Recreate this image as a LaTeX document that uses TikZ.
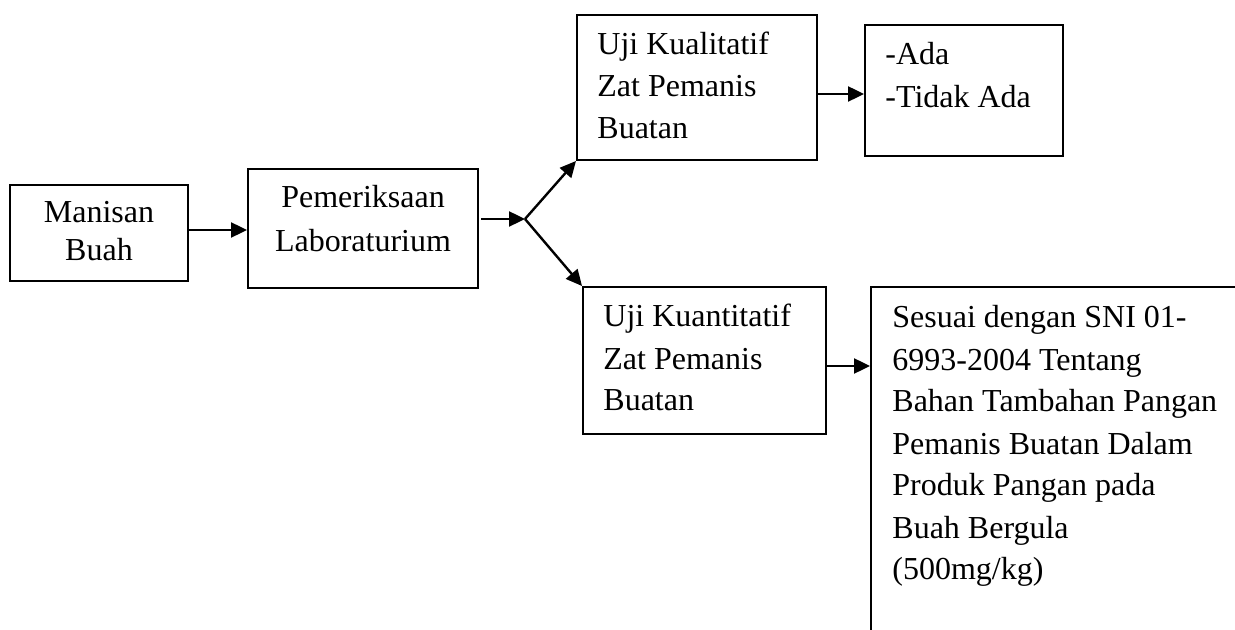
\documentclass[tikz,border=0pt]{standalone}
\usepackage{fontspec}
\setmainfont{Liberation Serif}
\usetikzlibrary{arrows.meta,fit}
\newcommand\mylinesL[2]{\vtop{\baselineskip=#1\lineskiplimit=-100pt\halign{##\hfil\cr#2\crcr}}}
\newcommand\mylinesC[2]{\vtop{\baselineskip=#1\lineskiplimit=-100pt\halign{\hfil##\hfil\cr#2\crcr}}}
\begin{document}
\begin{tikzpicture}[x=0.5pt,y=-0.5pt,
  box/.style={draw,line width=1pt,inner sep=0pt,rectangle},
  txt/.style={inner sep=0pt,font=\fontsize{16}{21}\selectfont},
  arr/.style={-{Triangle[length=8pt,width=7.5pt]},line width=1.2pt}]
\useasboundingbox (0,0) rectangle (1235,630);
% boxes
\node[box,fit={(10,185) (188,281)}] (man) {};
\node[box,fit={(248,169) (478,288)}] (pem) {};
\node[box,fit={(577,15) (817,160)}] (kual) {};
\node[box,fit={(865,25) (1063,156)}] (ada) {};
\node[box,fit={(583,287) (826,434)}] (kuan) {};
\begin{scope}
\clip (0,0) rectangle (1235,630);
\node[box,fit={(871,287) (1300,700)}] (ses) {};
\end{scope}
% texts
\node[txt,anchor=base] (tman) at (99,223) {\mylinesC{19pt}{Manisan\cr Buah}};
\node[txt,anchor=base] (tpem) at (363,208) {\mylinesC{22pt}{Pemeriksaan\cr Laboraturium}};
\node[txt,anchor=base west] (tkual) at (597,55) {\mylinesL{21pt}{Uji Kualitatif\cr Zat Pemanis\cr Buatan}};
\node[txt,anchor=base west] (tada) at (885,65) {\mylinesL{21.5pt}{-Ada\cr -Tidak Ada}};
\node[txt,anchor=base west] (tkuan) at (603,327) {\mylinesL{21pt}{Uji Kuantitatif\cr Zat Pemanis\cr Buatan}};
\node[txt,anchor=base west] (tses) at (892,328) {\mylinesL{21pt}{Sesuai dengan SNI 01-\cr 6993-2004 Tentang\cr Bahan Tambahan Pangan\cr Pemanis Buatan Dalam\cr Produk Pangan pada\cr Buah Bergula\cr (500mg/kg)}};
% connectors
\coordinate (br) at (525,219);
\draw[arr] (man.east |- 0,230) -- (pem.west |- 0,230);
\draw[arr] (pem.east |- br) ++(2,0) -- (br);
\draw[arr] (br) -- (kual.south west);
\draw[arr] (br) -- (kuan.north west);
\draw[arr] (kual.east |- 0,94) -- (ada.west |- 0,94);
\draw[arr] (kuan.east |- 0,366) -- (ses.west |- 0,366);
\end{tikzpicture}
\end{document}
